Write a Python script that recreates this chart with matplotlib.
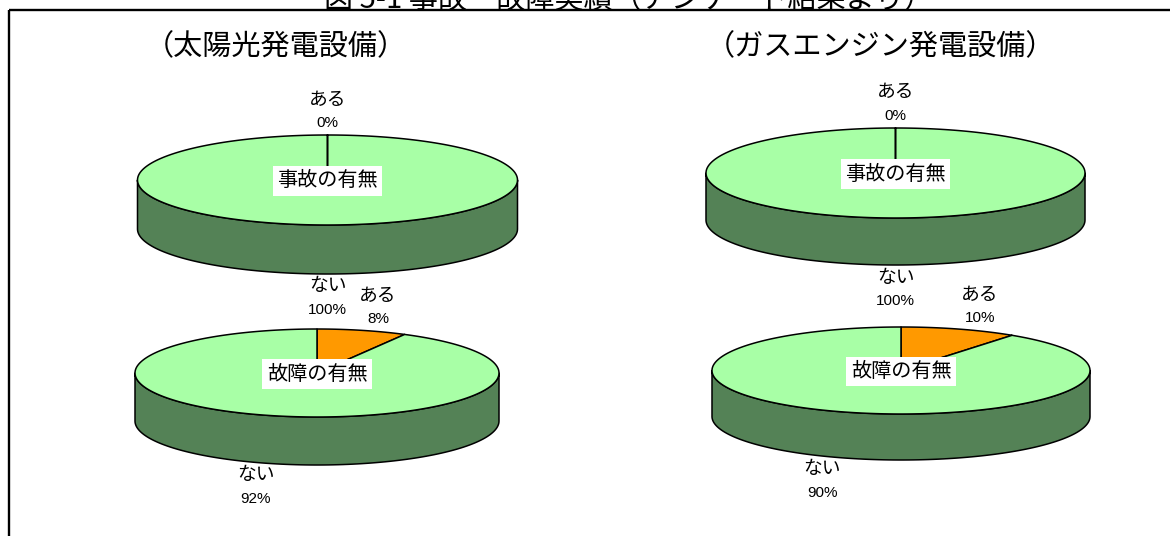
import numpy as np
import matplotlib
matplotlib.use('Agg')
import matplotlib.pyplot as plt
from matplotlib.patches import Polygon

JP = ['Noto Sans CJK JP', 'DejaVu Sans']
NUM = ['Liberation Sans', 'Noto Sans CJK JP']

# survey results (percent)
categories = ['ある', 'ない']
solar_accident = [0, 100]
solar_failure = [8, 92]
gas_accident = [0, 100]
gas_failure = [10, 90]

pie_labels = ['事故の有無', '故障の有無', '事故の有無', '故障の有無']
facility_titles = ['（太陽光発電設備）', '（ガスエンジン発電設備）']
fig_title = '図 5-1 事故・故障実績（アンケート結果より）'

top_colors = ['#FF9900', '#A8FFA6']
side_colors = ['#B36B00', '#548256']

# (cx, cy, rx, ry, depth) in pixels
layout = [
    (327.5, 180, 190, 45, 49),
    (317, 373, 182, 44, 48),
    (895.5, 173, 189.5, 45, 47),
    (901, 370.5, 189, 43.5, 46),
]


def pt(cx, cy, rx, ry, th):
    # angle measured clockwise from 12 o'clock, y axis points down
    return cx + rx * np.sin(th), cy - ry * np.cos(th)


def draw_pie3d(ax, values, cx, cy, rx, ry, depth, label):
    fracs = np.array(values, dtype=float) / sum(values)
    bounds = np.concatenate([[0], np.cumsum(fracs)]) * 2 * np.pi

    # side walls (front half only: pi/2 .. 3pi/2)
    for i in range(len(values)):
        t0 = max(bounds[i], np.pi / 2)
        t1 = min(bounds[i + 1], 3 * np.pi / 2)
        if t1 <= t0:
            continue
        th = np.linspace(t0, t1, 120)
        xs, ys = pt(cx, cy, rx, ry, th)
        poly = np.column_stack([np.concatenate([xs, xs[::-1]]),
                                np.concatenate([ys, ys[::-1] + depth])])
        ax.add_patch(Polygon(poly, closed=True, fc=side_colors[i],
                             ec='black', lw=1.1, joinstyle='round'))

    # top face
    for i in range(len(values)):
        if fracs[i] == 0:
            continue
        th = np.linspace(bounds[i], bounds[i + 1], 240)
        xs, ys = pt(cx, cy, rx, ry, th)
        poly = np.column_stack([np.concatenate([[cx], xs]),
                                np.concatenate([[cy], ys])])
        ax.add_patch(Polygon(poly, closed=True, fc=top_colors[i],
                             ec='black', lw=1.1, joinstyle='round'))

    # data labels
    for i in range(len(values)):
        mid = (bounds[i] + bounds[i + 1]) / 2
        lx = cx + rx * 1.35 * np.sin(mid)
        ly = cy - (ry + 24) * np.cos(mid)
        if np.cos(mid) < 0:
            ly += depth
        ax.text(lx, ly - 12, categories[i], ha='center', va='center',
                fontsize=13.5, family=JP)
        ax.text(lx, ly + 12, f'{values[i]:.0f}%', ha='center', va='center',
                fontsize=11, family=NUM)

    ax.text(cx, cy + 1, label, ha='center', va='center', fontsize=14.5,
            family=JP, bbox=dict(fc='white', ec='none', pad=3))


fig = plt.figure(figsize=(11.7, 5.36), dpi=100)
ax = fig.add_axes([0, 0, 1, 1])
ax.set_xlim(0, 1170)
ax.set_ylim(536, 0)
ax.axis('off')

for vals, lab, geo in zip([solar_accident, solar_failure, gas_accident, gas_failure],
                          pie_labels, layout):
    draw_pie3d(ax, vals, *geo, lab)

# frame
ax.plot([9, 9], [540, 10], color='black', lw=1.7, solid_capstyle='butt')
ax.plot([9, 1175], [10, 10], color='black', lw=1.7, solid_capstyle='butt')

ax.text(276, 47, facility_titles[0], ha='center', va='center', fontsize=21, family=JP)
ax.text(880, 47, facility_titles[1], ha='center', va='center', fontsize=21, family=JP)
ax.text(628, 8, fig_title, ha='center', va='baseline', fontsize=21, family=JP)

fig.savefig('out.png', dpi=100)
